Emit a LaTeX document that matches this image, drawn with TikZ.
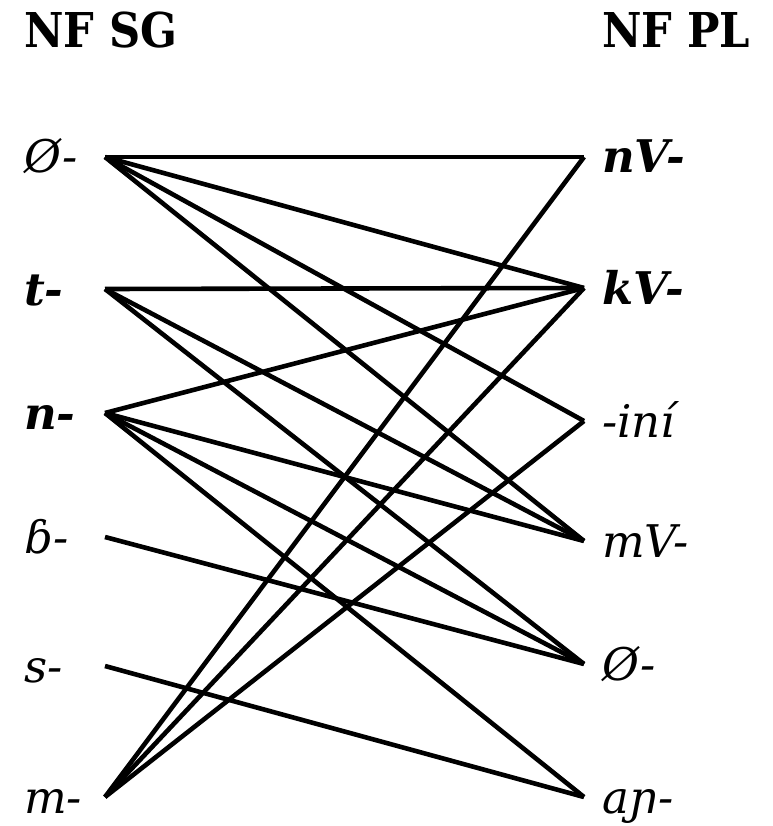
\documentclass[tikz,border=0pt]{standalone}
\usepackage{fontspec}
\setmainfont{DejaVu Serif}
\newfontfamily\headfont{DejaVu Serif Condensed}
\usetikzlibrary{positioning}

\begin{document}
\begin{tikzpicture}[
  x=1pt, y=-1pt,
  head/.style={anchor=base west, inner sep=0pt, font=\headfont\bfseries\fontsize{48}{54}\selectfont},
  form/.style={anchor=base west, inner sep=0pt, font=\itshape\fontsize{45}{50}\selectfont},
  link/.style={line width=4.6pt}
]
  \useasboundingbox (0,0) rectangle (772,826);

  \node[head] (sg) at (24,48) {NF SG};
  \node[head] (pl) at (602,48) {NF PL};

  % singular prefixes
  \foreach \name/\y/\txt in {Z/157/{Ø-}, T/289/{\textbf{t-}}, N/413/{\textbf{n-}},
                             B/537/{ɓ-}, S/666/{s-}, M/797/{m-}} {
    \coordinate (s\name) at (105,\y);
    \node[form] (ls\name) at (24,\y+16) {\txt};
  }
  % plural prefixes
  \foreach \name/\y/\txt in {N/157/{\textbf{nV-}}, K/288/{\textbf{kV-}}, I/421/{-iní},
                             M/541/{mV-}, Z/664/{Ø-}, A/797/{aɲ-}} {
    \coordinate (p\name) at (584,\y);
    \node[form] (lp\name) at (602,\y+16) {\txt};
  }

  \foreach \from/\to in {Z/N, Z/K, Z/I, Z/M, T/K, T/M, T/Z, N/K, N/M, N/Z, N/A,
                         B/Z, S/A, M/N, M/K, M/I}
    \draw[link] (s\from) -- (p\to);
\end{tikzpicture}
\end{document}
